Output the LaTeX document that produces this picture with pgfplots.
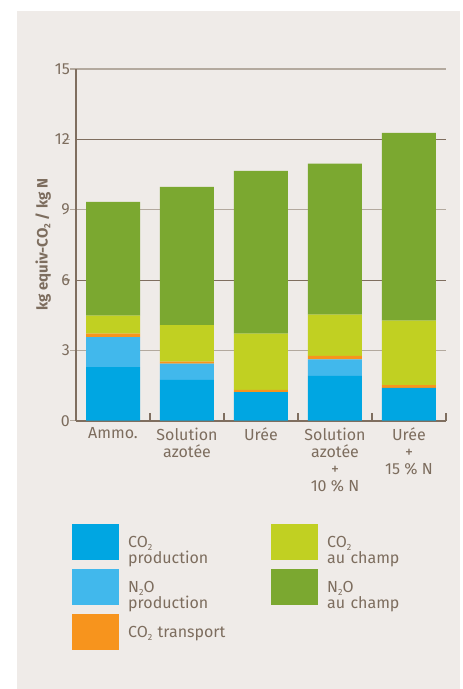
\documentclass[border=0pt]{standalone}
\usepackage{fontspec}
\setmainfont{Fira Sans}
\usepackage{pgfplots}
\pgfplotsset{compat=1.18}
\definecolor{bg}{HTML}{EFEBE8}
\definecolor{txt}{HTML}{7D6D5E}
\definecolor{axc}{HTML}{7F6E5F}
\definecolor{gl}{HTML}{B3A99E}
\definecolor{cA}{HTML}{00A6E2}
\definecolor{cB}{HTML}{41B8EC}
\definecolor{cC}{HTML}{F7941D}
\definecolor{cD}{HTML}{C1D022}
\definecolor{cE}{HTML}{7BA830}
\pgfplotsset{sqleg/.style={legend image code/.code={\fill[##1] (0pt,-18pt) rectangle (47pt,18pt);}}}
\newcommand{\sub}[1]{\raisebox{-0.35ex}{\fontsize{9}{9}\selectfont #1}}
\begin{document}
\begin{tikzpicture}[x=1pt,y=1pt]
\fill[white] (0,0) rectangle (463,689);
\fill[bg] (17,0) rectangle (460,678);
\begin{axis}[
  at={(76pt,268.3pt)}, anchor=south west,
  scale only axis, width=370pt, height=351.7pt,
  xmin=-0.5, xmax=4.5, ymin=0, ymax=15,
  ybar stacked, bar width=54pt,
  /pgf/number format/assume math mode=true,
  axis x line*=bottom, axis y line*=left,
  axis line style={-, axc, line width=1.6pt},
  tick align=inside,
  xtick={0,1,2,3,4},
  xticklabels={Ammo., Solution\\azotée, Urée, Solution\\azotée\\+\\10 \% N, Urée\\+\\15 \% N},
  major x tick style={draw=none},
  minor xtick={0.5,1.5,2.5,3.5,4.5},
  minor tick length=8pt,
  minor x tick style={axc, line width=1.4pt},
  xticklabel style={align=center, font=\fontsize{16}{17}\selectfont, text=txt, inner sep=0pt, yshift=-7pt},
  ytick={0,3,9,15},
  extra y ticks={6,12},
  major tick length=6pt,
  major y tick style={gl, line width=1.5pt, xshift=-6pt},
  ymajorgrids,
  major grid style={gl, line width=1.5pt},
  extra y tick style={major grid style={axc, line width=0.8pt}, major y tick style={gl, line width=1.5pt, xshift=-6pt}},
  yticklabel style={font=\fontsize{16}{16}\selectfont, text=txt, inner sep=0pt, xshift=-6pt},
  ylabel={kg equiv-CO\sub{2} / kg N},
  ylabel style={font=\bfseries\fontsize{15}{15}\selectfont, text=txt, at={(axis description cs:-0.089,0.5)}, anchor=center},
  legend columns=3, transpose legend,
  legend cell align=left,
  legend style={at={(axis description cs:-0.0108,-0.2937)}, anchor=north west, draw=none, fill=none, inner sep=0pt, column sep=9pt, row sep=9pt, font=\fontsize{16}{16}\selectfont, text=txt, nodes={inner sep=0pt, text width=134pt, align=left}},
]
\addplot[fill=cA, draw=none, sqleg] coordinates {(0,2.29) (1,1.74) (2,1.22) (3,1.91) (4,1.40)};
\addlegendentry{CO\sub{2}\\production}
\addplot[fill=cB, draw=none, sqleg] coordinates {(0,1.27) (1,0.69) (2,0) (3,0.71) (4,0)};
\addlegendentry{N\sub{2}O\\production}
\addplot[fill=cC, draw=none, sqleg] coordinates {(0,0.15) (1,0.09) (2,0.10) (3,0.15) (4,0.12)};
\addlegendentry{CO\sub{2} transport}
\addplot[fill=cD, draw=none, sqleg] coordinates {(0,0.77) (1,1.56) (2,2.39) (3,1.75) (4,2.75)};
\addlegendentry{CO\sub{2}\\au champ}
\addplot[fill=cE, draw=none, sqleg] coordinates {(0,4.85) (1,5.89) (2,6.95) (3,6.44) (4,8.01)};
\addlegendentry{N\sub{2}O\\au champ}
\end{axis}
\pgfresetboundingbox
\path[use as bounding box] (0,0) rectangle (463,689);
\end{tikzpicture}
\end{document}
